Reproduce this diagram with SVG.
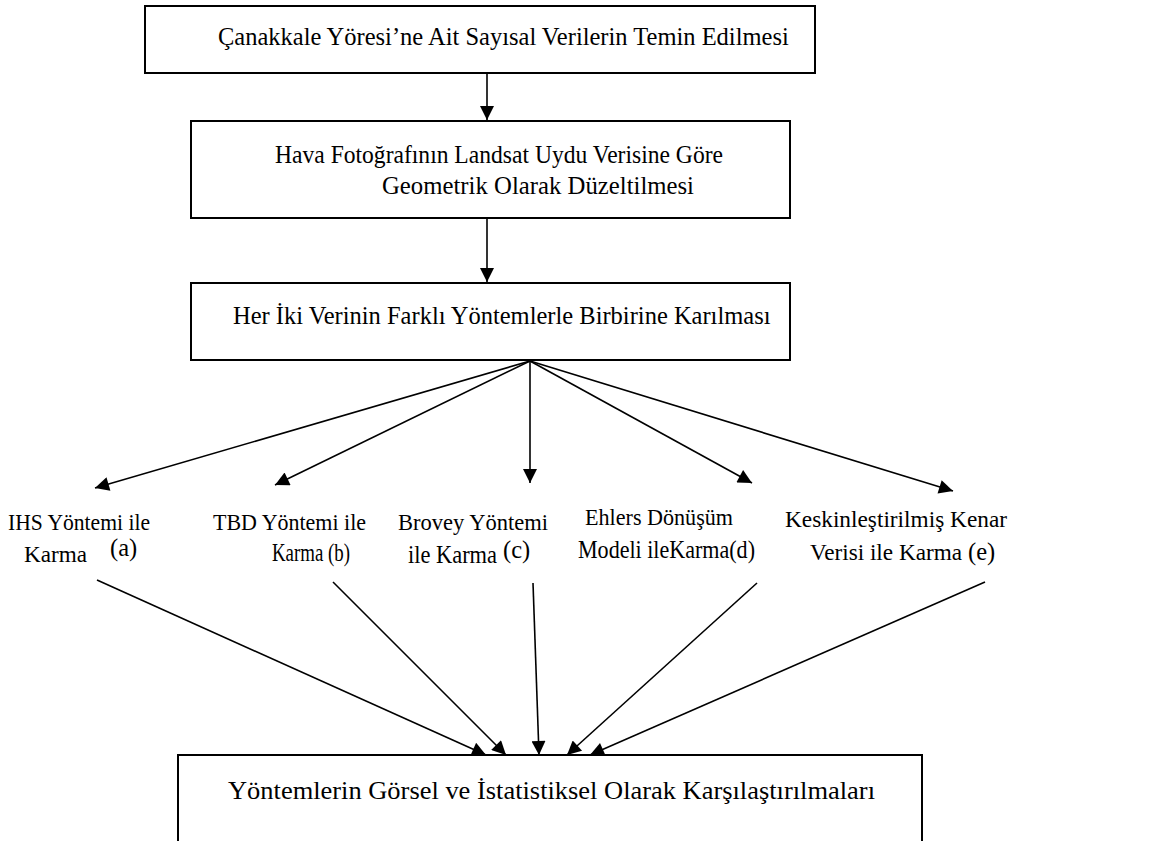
<svg xmlns="http://www.w3.org/2000/svg" width="1151" height="841" viewBox="0 0 1151 841">
<style>
.box{fill:#fff;stroke:#000;stroke-width:2}
.t{font-family:"Liberation Serif","Times New Roman",serif;font-size:24.5px;fill:#000}
.l{font-family:"Liberation Serif","Times New Roman",serif;font-size:23px;fill:#000}
.c{stroke:#000;stroke-width:1.6;fill:none}
</style>
<defs>
<marker id="ah" viewBox="0 0 10 10" refX="10" refY="5" markerWidth="18" markerHeight="14" markerUnits="userSpaceOnUse" orient="auto">
<path d="M0,0 L10,5 L0,10 z" fill="#000"/>
</marker>
</defs>
<rect width="1151" height="841" fill="#fff"/>
<g id="n1">
<rect class="box" x="145" y="6" width="670" height="67"/>
<text class="t" x="218" y="45">Çanakkale Yöresi’ne Ait Sayısal Verilerin Temin Edilmesi</text>
</g>
<g id="n2">
<rect class="box" x="191" y="121" width="599" height="97"/>
<text class="t" x="275" y="163" textLength="448" lengthAdjust="spacingAndGlyphs">Hava Fotoğrafının Landsat Uydu Verisine Göre</text>
<text class="t" x="382" y="194" textLength="312" lengthAdjust="spacingAndGlyphs">Geometrik Olarak Düzeltilmesi</text>
</g>
<g id="n3">
<rect class="box" x="191" y="283" width="599" height="77" stroke-width="1.5"/>
<text class="t" x="233" y="324">Her İki Verinin Farklı Yöntemlerle Birbirine Karılması</text>
</g>
<g id="na">
<text class="l" x="8" y="530" textLength="142" lengthAdjust="spacingAndGlyphs">IHS Yöntemi ile</text>
<text class="l" x="24" y="562" textLength="63" lengthAdjust="spacingAndGlyphs">Karma</text>
<text class="t" x="110" y="556">(a)</text>
</g>
<g id="nb">
<text class="l" x="213" y="530" textLength="153" lengthAdjust="spacingAndGlyphs">TBD Yöntemi ile</text>
<text class="t" x="272" y="561" textLength="78" lengthAdjust="spacingAndGlyphs">Karma (b)</text>
</g>
<g id="nc">
<text class="l" x="398" y="530" textLength="150" lengthAdjust="spacingAndGlyphs">Brovey Yöntemi</text>
<text class="t" x="408" y="563" textLength="89" lengthAdjust="spacingAndGlyphs">ile Karma</text>
<text class="t" x="503" y="558">(c)</text>
</g>
<g id="nd">
<text class="l" x="585" y="525" textLength="148" lengthAdjust="spacingAndGlyphs">Ehlers Dönüşüm</text>
<text class="t" x="578" y="558" textLength="177" lengthAdjust="spacingAndGlyphs">Modeli ileKarma(d)</text>
</g>
<g id="ne">
<text class="l" x="785" y="527" textLength="222" lengthAdjust="spacingAndGlyphs">Keskinleştirilmiş Kenar</text>
<text class="l" x="810" y="560" textLength="152" lengthAdjust="spacingAndGlyphs">Verisi ile Karma</text>
<text class="t" x="968" y="560">(e)</text>
</g>
<g id="n5">
<path class="box" d="M178,841 V755 H922 V841" stroke-width="1.5"/>
<text class="t" x="228" y="799" font-size="26" textLength="647" lengthAdjust="spacingAndGlyphs">Yöntemlerin Görsel ve İstatistiksel Olarak Karşılaştırılmaları</text>
</g>
<g id="connectors">
<line class="c" x1="487" y1="73" x2="487" y2="120" marker-end="url(#ah)" stroke-width="2"/>
<line class="c" x1="487" y1="218" x2="487" y2="282" marker-end="url(#ah)" stroke-width="2"/>
<line class="c" x1="530" y1="361" x2="95" y2="488" marker-end="url(#ah)"/>
<line class="c" x1="530" y1="361" x2="275" y2="485" marker-end="url(#ah)"/>
<line class="c" x1="530" y1="361" x2="530" y2="483" marker-end="url(#ah)"/>
<line class="c" x1="530" y1="361" x2="752" y2="483" marker-end="url(#ah)"/>
<line class="c" x1="530" y1="361" x2="953" y2="491" marker-end="url(#ah)"/>
<line class="c" x1="97" y1="580" x2="486" y2="755" marker-end="url(#ah)"/>
<line class="c" x1="333" y1="582" x2="506" y2="755" marker-end="url(#ah)"/>
<line class="c" x1="533" y1="583" x2="539" y2="755" marker-end="url(#ah)"/>
<line class="c" x1="757" y1="583" x2="567" y2="755" marker-end="url(#ah)"/>
<line class="c" x1="985" y1="582" x2="590" y2="755" marker-end="url(#ah)"/>
</g>
</svg>
